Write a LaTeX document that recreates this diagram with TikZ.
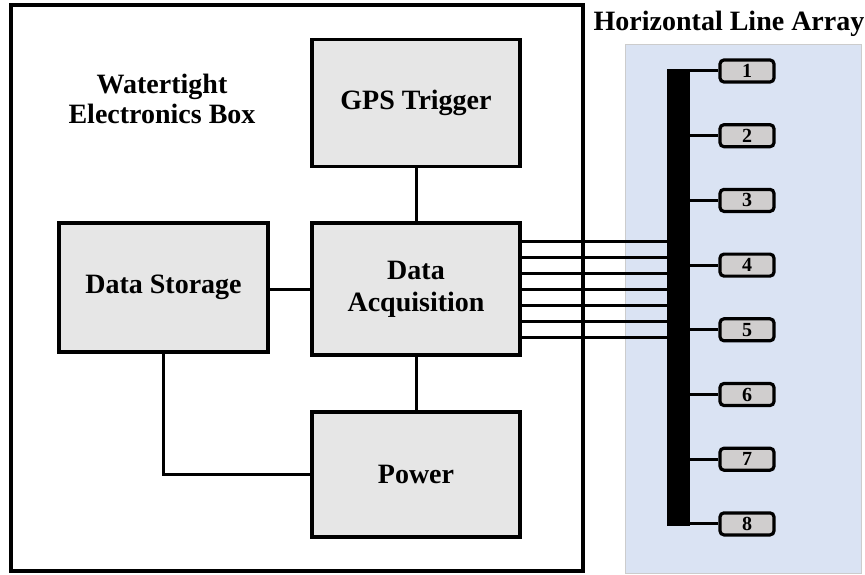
\documentclass[tikz,border=0pt]{standalone}
\usepackage{fontspec}
\setmainfont{Liberation Serif}
\definecolor{boxfill}{HTML}{E6E6E6}
\definecolor{numfill}{HTML}{D0CECE}
\definecolor{arrayblue}{HTML}{DAE3F3}
\begin{document}
\begin{tikzpicture}[x=1pt,y=-1pt,
  block/.style={draw=black,line width=3.5pt,fill=boxfill,font=\bfseries\fontsize{28}{32}\selectfont,align=center,inner sep=0pt},
  numbox/.style={draw=black,line width=3.2pt,fill=numfill,rounded corners=4pt,minimum width=54pt,minimum height=22pt,inner sep=0pt,font=\bfseries\fontsize{20}{22}\selectfont},
  conn/.style={line width=3pt},
  title/.style={font=\bfseries\fontsize{28}{30}\selectfont,align=center}]
\useasboundingbox (0,0) rectangle (865,575);
% array background
\fill[arrayblue,draw=gray!40,line width=0.8pt] (625,44) rectangle (861,573);
% outer box
\draw[line width=3.2pt] (11,5) rectangle (583,571);
% blocks
\node[block,minimum width=208pt,minimum height=127pt] (gps) at (416,103) {GPS Trigger};
\node[block,minimum width=208pt,minimum height=132pt] (daq) at (416,289) {Data\\Acquisition};
\node[block,minimum width=209pt,minimum height=129pt] (sto) at (163.5,287.5) {Data Storage};
\node[block,minimum width=208pt,minimum height=125pt] (pow) at (416,474.5) {Power};
\node[title] (wt) at (162,99) {Watertight\\Electronics Box};
\node[title] (hla) at (729,24) {Horizontal Line Array};
% connectors
\draw[conn] (gps.south) -- (daq.north);
\draw[conn] (daq.south) -- (pow.north);
\draw[conn] (sto.east |- daq.west) -- (daq.west);
\draw[conn] (sto.south) |- (pow.west);
% bar
\node[fill=black,draw=none,minimum width=23pt,minimum height=457pt,inner sep=0pt] (bar) at (678.5,297.5) {};
\foreach \i in {0,...,6}{
  \draw[conn] (daq.east |- 0,{241+16*\i}) -- (bar.west |- 0,{241+16*\i});
}
\foreach \i in {1,...,8}{
  \node[numbox] (n\i) at (747,{71+64.7*(\i-1)}) {\i};
  \draw[conn] (bar.east |- n\i.west) -- (n\i.west);
}
\end{tikzpicture}
\end{document}
